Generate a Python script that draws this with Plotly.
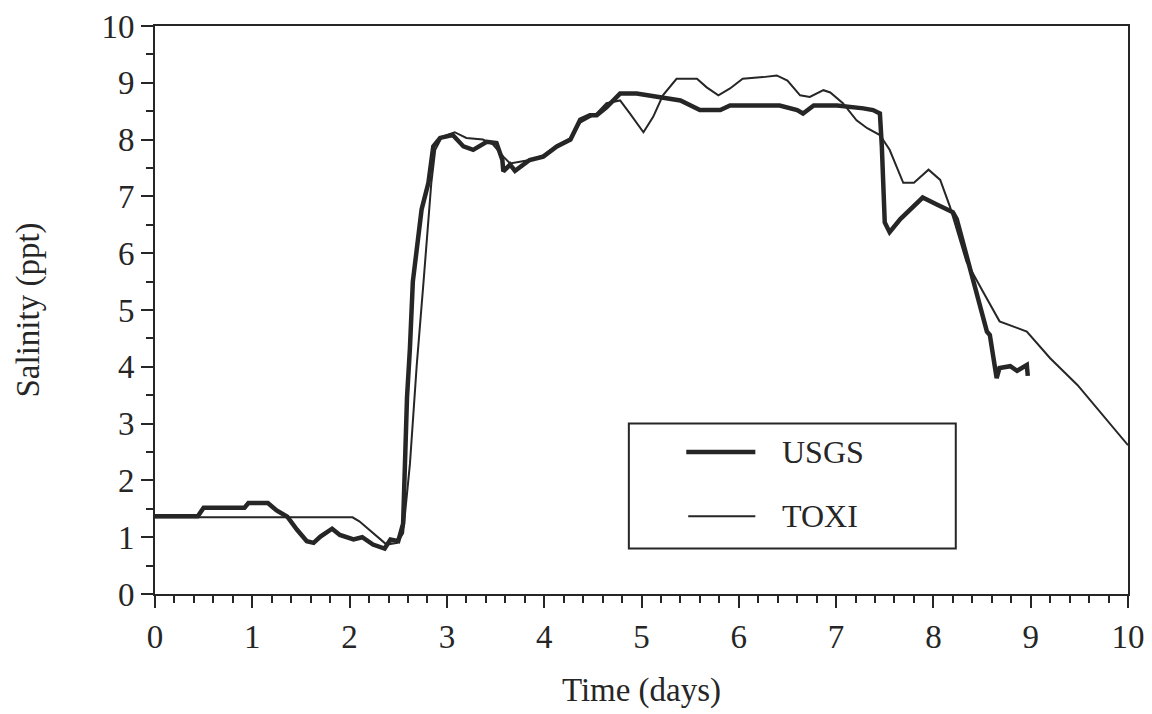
import plotly.graph_objects as go

# Salinity records (time in days, salinity in ppt)
usgs_time = [0.00, 0.44, 0.50, 0.92, 0.96, 1.16, 1.25, 1.36, 1.46, 1.56, 1.63, 1.70,
             1.82, 1.90, 2.04, 2.13, 2.24, 2.36, 2.42, 2.50, 2.55, 2.57, 2.59, 2.62,
             2.65, 2.74, 2.81, 2.86, 2.93, 3.06, 3.17, 3.27, 3.41, 3.51, 3.57, 3.58,
             3.65, 3.70, 3.85, 3.99, 4.13, 4.27, 4.37, 4.47, 4.54, 4.64, 4.78, 4.95,
             5.16, 5.40, 5.60, 5.81, 5.91, 6.42, 6.60, 6.66, 6.77, 7.01, 7.28, 7.38,
             7.45, 7.47, 7.50, 7.55, 7.66, 7.76, 7.89, 8.03, 8.20, 8.24, 8.34, 8.45,
             8.55, 8.58, 8.63, 8.65, 8.68, 8.79, 8.86, 8.96, 8.97]
usgs_salinity = [1.37, 1.37, 1.52, 1.52, 1.60, 1.60, 1.47, 1.36, 1.13, 0.93, 0.90, 1.01,
                 1.15, 1.04, 0.96, 1.00, 0.87, 0.80, 0.96, 0.93, 1.24, 2.29, 3.46, 4.33,
                 5.50, 6.77, 7.24, 7.88, 8.03, 8.08, 7.88, 7.82, 7.96, 7.94, 7.64, 7.44,
                 7.56, 7.45, 7.64, 7.70, 7.88, 8.00, 8.35, 8.43, 8.43, 8.57, 8.81, 8.81,
                 8.75, 8.69, 8.52, 8.52, 8.60, 8.60, 8.52, 8.46, 8.60, 8.60, 8.55, 8.52,
                 8.46, 7.88, 6.54, 6.37, 6.60, 6.77, 6.98, 6.86, 6.72, 6.60, 5.95, 5.20,
                 4.62, 4.56, 4.03, 3.80, 3.98, 4.01, 3.93, 4.03, 3.84]

toxi_time = [0.00, 2.03, 2.10, 2.38, 2.49, 2.55, 2.62, 2.69, 2.76, 2.81, 2.84, 2.88,
             2.95, 3.08, 3.20, 3.37, 3.47, 3.58, 3.65, 3.85, 3.99, 4.13, 4.27, 4.37,
             4.54, 4.64, 4.78, 4.88, 5.02, 5.12, 5.22, 5.36, 5.57, 5.67, 5.79, 5.91,
             6.04, 6.25, 6.39, 6.50, 6.63, 6.73, 6.87, 6.94, 7.07, 7.21, 7.32, 7.45,
             7.55, 7.69, 7.80, 7.95, 8.07, 8.17, 8.34, 8.51, 8.68, 8.96, 9.20, 9.48,
             9.74, 10.00]
toxi_salinity = [1.35, 1.35, 1.28, 0.87, 0.90, 1.07, 2.29, 4.03, 5.50, 6.65, 7.24, 7.82,
                 8.05, 8.13, 8.03, 8.00, 7.92, 7.70, 7.58, 7.64, 7.72, 7.90, 8.02, 8.30,
                 8.46, 8.64, 8.69, 8.46, 8.13, 8.40, 8.78, 9.07, 9.07, 8.92, 8.78, 8.90,
                 9.07, 9.10, 9.13, 9.04, 8.78, 8.75, 8.87, 8.83, 8.64, 8.34, 8.20, 8.08,
                 7.82, 7.24, 7.24, 7.47, 7.29, 6.82, 5.85, 5.32, 4.80, 4.62, 4.15, 3.68,
                 3.16, 2.62]

ink = "#262626"
serif = "Liberation Serif"

fig = go.Figure()
fig.add_trace(go.Scatter(x=toxi_time, y=toxi_salinity, mode="lines", name="TOXI",
                         line=dict(color=ink, width=2)))
fig.add_trace(go.Scatter(x=usgs_time, y=usgs_salinity, mode="lines", name="USGS",
                         line=dict(color=ink, width=4.5)))

axis_common = dict(
    range=[0, 10], showline=True, linecolor=ink, linewidth=2, mirror=True,
    showgrid=False, zeroline=False, ticks="outside", tickcolor=ink, tickwidth=2,
    tickfont=dict(family=serif, size=33, color=ink),
)
fig.update_xaxes(**axis_common, dtick=1, ticklen=12, automargin="height",
                 minor=dict(dtick=0.2, ticks="outside", ticklen=7, tickcolor=ink, tickwidth=1.5),
                 title=dict(text="Time (days)", font=dict(family=serif, size=33, color=ink), standoff=24))
fig.update_yaxes(**axis_common, dtick=1, ticklen=12, automargin="width",
                 minor=dict(dtick=0.5, ticks="outside", ticklen=7, tickcolor=ink, tickwidth=1.5),
                 title=dict(text="Salinity (ppt)", font=dict(family=serif, size=33, color=ink), standoff=52))

# Boxed key in the lower right of the plot area
fig.add_shape(type="rect", xref="paper", yref="paper", x0=0.487, x1=0.823, y0=0.080, y1=0.300,
              line=dict(color=ink, width=2), fillcolor="white", layer="above")
fig.add_shape(type="line", xref="paper", yref="paper", x0=0.546, x1=0.617, y0=0.250, y1=0.250,
              line=dict(color=ink, width=4.5), layer="above")
fig.add_shape(type="line", xref="paper", yref="paper", x0=0.548, x1=0.617, y0=0.137, y1=0.137,
              line=dict(color=ink, width=2), layer="above")
for label, yy in [("USGS", 0.250), ("TOXI", 0.137)]:
    fig.add_annotation(xref="paper", yref="paper", x=0.642, y=yy, text=label, showarrow=False,
                       xanchor="left", yanchor="middle",
                       font=dict(family=serif, size=32, color=ink))

fig.update_layout(
    width=1152, height=714, showlegend=False,
    margin=dict(l=155, r=24, t=26, b=116),
    plot_bgcolor="white", paper_bgcolor="white",
)

fig.write_html("out.html")
